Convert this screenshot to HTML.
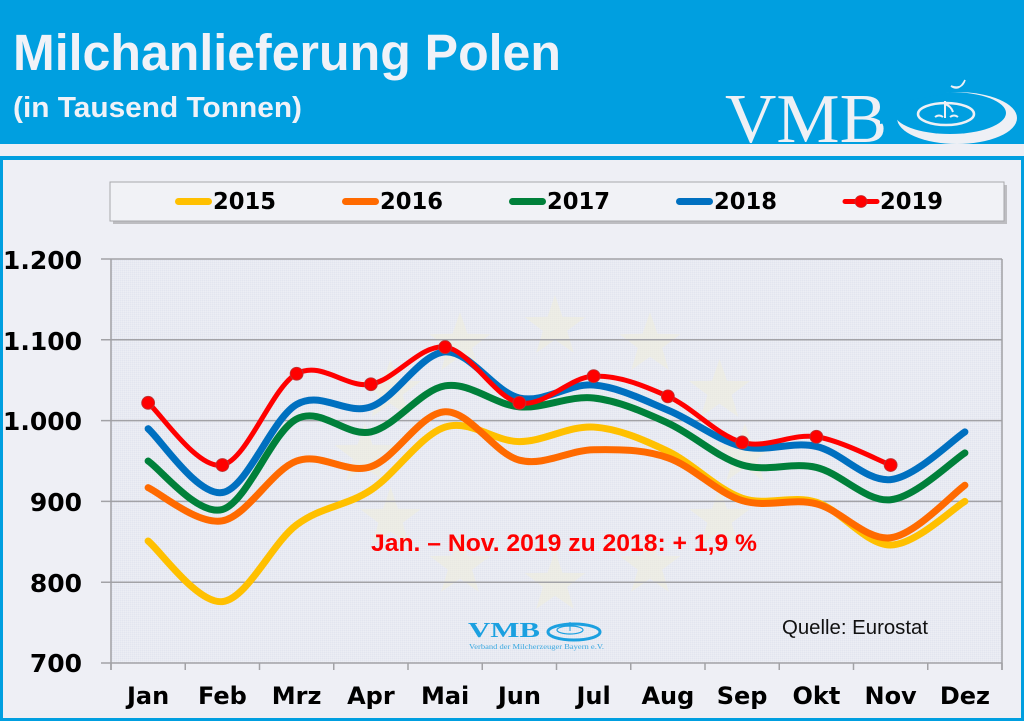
<!DOCTYPE html>
<html><head><meta charset="utf-8"><style>
html,body{margin:0;padding:0;background:#eeeff5;}
svg{display:block;}
</style></head><body>
<svg id="c" width="1024" height="721" viewBox="0 0 1024 721" xmlns="http://www.w3.org/2000/svg">
<defs>
<pattern id="dith" width="2" height="2" patternUnits="userSpaceOnUse">
<rect width="2" height="2" fill="#e8eaf2"/>
<rect width="1" height="1" fill="#e2e5ef"/>
<rect x="1" y="1" width="1" height="1" fill="#eceef4"/>
</pattern>
<polygon id="star" points="0,-32 7.5,-10.3 30.4,-9.9 12.1,3.9 18.8,25.9 0,12.8 -18.8,25.9 -12.1,3.9 -30.4,-9.9 -7.5,-10.3"/>
</defs>
<!-- page background -->
<rect x="0" y="0" width="1024" height="721" fill="#eeeff5"/>
<!-- header -->
<rect x="0" y="0" width="1024" height="144" fill="#009fe0"/>
<rect x="0" y="156" width="1024" height="4" fill="#009fe0"/>
<!-- frame borders -->
<rect x="0" y="156" width="3" height="565" fill="#009fe0"/>
<rect x="1021" y="156" width="3" height="565" fill="#009fe0"/>
<rect x="0" y="718" width="1024" height="3" fill="#009fe0"/>

<text x="13" y="70" font-family="Liberation Sans, sans-serif" font-weight="bold" font-size="51" fill="#f0f2f8" textLength="548" lengthAdjust="spacingAndGlyphs">Milchanlieferung Polen</text>
<text x="13" y="117" font-family="Liberation Sans, sans-serif" font-weight="bold" font-size="29" fill="#f0f2f8" textLength="289" lengthAdjust="spacingAndGlyphs">(in Tausend Tonnen)</text>

<!-- VMB logo header -->
<text x="725" y="142" font-family="Liberation Serif, serif" font-size="70" fill="#eef0f5" textLength="162" lengthAdjust="spacingAndGlyphs">VMB</text>
<ellipse cx="957" cy="118" rx="60" ry="26" fill="#eef0f5"/>
<ellipse cx="950" cy="113" rx="56" ry="21" fill="#009fe0"/>
<polygon points="880,80 945,80 945,94 910,100 890,122 880,124" fill="#009fe0"/>
<ellipse cx="946" cy="114" rx="28" ry="11" fill="none" stroke="#eef0f5" stroke-width="2.5"/>
<path d="M945,101 L945,118 M945,104 q6,2 8,8 M935,117 q4,-3 8,0 M950,117 q4,-3 8,0" stroke="#eef0f5" stroke-width="2" fill="none"/>
<path d="M951,86 q8,6 14,-6 q-3,10 -14,6Z" fill="#eef0f5" stroke="#eef0f5" stroke-width="1.5"/>

<!-- legend -->
<rect x="113" y="185" width="894" height="39" fill="#bdbdc1"/>
<rect x="110" y="182" width="894" height="39" fill="#f1f2f6" stroke="#a8a8ac" stroke-width="1"/>
<g stroke-linecap="round" stroke-width="7">
<line x1="178.5" y1="201.5" x2="208.5" y2="201.5" stroke="#ffc000"/>
<line x1="345.5" y1="201.5" x2="375.5" y2="201.5" stroke="#ff6a00"/>
<line x1="512.5" y1="201.5" x2="542.5" y2="201.5" stroke="#00803a"/>
<line x1="679.5" y1="201.5" x2="709.5" y2="201.5" stroke="#0070c0"/>
</g>
<line x1="845" y1="201.5" x2="877" y2="201.5" stroke="#ff0000" stroke-width="5" stroke-linecap="round"/>
<circle cx="861" cy="201.5" r="6" fill="#ff0000" stroke="#c03030" stroke-width="0.8"/>
<g font-family="DejaVu Sans, Verdana, sans-serif" font-weight="bold" font-size="23" fill="#000">
<text x="213" y="209" textLength="63" lengthAdjust="spacingAndGlyphs">2015</text>
<text x="380" y="209" textLength="63" lengthAdjust="spacingAndGlyphs">2016</text>
<text x="547" y="209" textLength="63" lengthAdjust="spacingAndGlyphs">2017</text>
<text x="714" y="209" textLength="63" lengthAdjust="spacingAndGlyphs">2018</text>
<text x="880" y="209" textLength="63" lengthAdjust="spacingAndGlyphs">2019</text>
</g>

<!-- plot area -->
<rect x="111" y="259" width="891" height="404" fill="url(#dith)"/>
<g fill="#f0eedb" opacity="0.55" id="stars"></g>
<g id="grid" stroke="#a2a2a6" stroke-width="1.5"></g>
<line x1="111" y1="259" x2="111" y2="670" stroke="#a0a0a4" stroke-width="1.5"/>
<line x1="1002" y1="259" x2="1002" y2="670" stroke="#a0a0a4" stroke-width="1.5"/>

<!-- watermark logo -->
<text x="468" y="637" font-family="Liberation Serif, serif" font-weight="bold" font-size="21" fill="#1ba0e0" textLength="72" lengthAdjust="spacingAndGlyphs">VMB</text>
<ellipse cx="574" cy="632" rx="26" ry="8" fill="none" stroke="#1ba0e0" stroke-width="3"/>
<ellipse cx="570" cy="630" rx="13" ry="4" fill="none" stroke="#1ba0e0" stroke-width="1.2"/>
<line x1="570" y1="622" x2="570" y2="631" stroke="#1ba0e0" stroke-width="1"/>
<text x="469" y="649" font-family="Liberation Serif, serif" font-size="7" fill="#3aa8e0" textLength="135" lengthAdjust="spacingAndGlyphs">Verband der Milcherzeuger Bayern e.V.</text>

<!-- series -->
<g id="series" fill="none" stroke-linecap="round" stroke-linejoin="round"></g>
<g id="markers"></g>

<!-- annotation -->
<text x="371" y="551" font-family="Liberation Sans, sans-serif" font-weight="bold" font-size="24" fill="#ff0000" textLength="386" lengthAdjust="spacingAndGlyphs">Jan. – Nov. 2019 zu 2018: + 1,9 %</text>
<text x="782" y="634" font-family="Liberation Sans, sans-serif" font-size="20" fill="#111" textLength="146" lengthAdjust="spacingAndGlyphs">Quelle: Eurostat</text>

<!-- y labels -->
<g font-family="DejaVu Sans, Verdana, sans-serif" font-weight="bold" font-size="25" fill="#000" text-anchor="end">
<text x="82" y="269">1.200</text>
<text x="82" y="350">1.100</text>
<text x="82" y="430">1.000</text>
<text x="82" y="511">900</text>
<text x="82" y="592">800</text>
<text x="82" y="672">700</text>
</g>
<!-- x labels -->
<g font-family="DejaVu Sans, Verdana, sans-serif" font-weight="bold" font-size="24" fill="#000" text-anchor="middle">
<text x="148.1" y="704">Jan</text>
<text x="222.4" y="704">Feb</text>
<text x="296.6" y="704">Mrz</text>
<text x="370.9" y="704">Apr</text>
<text x="445.1" y="704">Mai</text>
<text x="519.4" y="704">Jun</text>
<text x="593.6" y="704">Jul</text>
<text x="667.9" y="704">Aug</text>
<text x="742.1" y="704">Sep</text>
<text x="816.4" y="704">Okt</text>
<text x="890.6" y="704">Nov</text>
<text x="964.9" y="704">Dez</text>
</g>
</svg>
<script>
(function(){
var NS="http://www.w3.org/2000/svg";
var X0=111,W=891/12;
function Y(v){return 663-(v-700)*404/500;}
function el(tag,attrs,parent){var e=document.createElementNS(NS,tag);for(var k in attrs)e.setAttribute(k,attrs[k]);parent.appendChild(e);return e;}
var g=document.getElementById("grid");
[1200,1100,1000,900,800,700].forEach(function(v){var y=Y(v);el("line",{x1:101,y1:y,x2:1002,y2:y},g);});
for(var k=0;k<=12;k++){var x=X0+W*k;el("line",{x1:x,y1:663,x2:x,y2:670},g);}
var s=document.getElementById("stars");
for(var i=0;i<12;i++){var a=i*Math.PI/6;var cx=555+190*Math.sin(a),cy=455-128*Math.cos(a);el("use",{href:"#star",x:cx.toFixed(1),y:cy.toFixed(1)},s);}
function path(vals){
 var p=vals.map(function(v,i){return [X0+W*(i+0.5),Y(v)];});
 var d="M"+p[0][0].toFixed(2)+","+p[0][1].toFixed(2);
 for(var i=0;i<p.length-1;i++){
  var p0=p[i-1]||p[i],p1=p[i],p2=p[i+1],p3=p[i+2]||p[i+1];
  var c1=[p1[0]+(p2[0]-p0[0])/6,p1[1]+(p2[1]-p0[1])/6];
  var c2=[p2[0]-(p3[0]-p1[0])/6,p2[1]-(p3[1]-p1[1])/6];
  d+=" C"+c1[0].toFixed(2)+","+c1[1].toFixed(2)+" "+c2[0].toFixed(2)+","+c2[1].toFixed(2)+" "+p2[0].toFixed(2)+","+p2[1].toFixed(2);
 }
 return {d:d,p:p};
}
var series=[
 {c:"#ffc000",w:7,v:[851,776,871,914,992,974,992,962,904,899,846,900]},
 {c:"#ff6a00",w:7,v:[917,876,950,943,1011,951,964,954,901,897,855,920]},
 {c:"#00803a",w:7,v:[950,890,1002,986,1043,1017,1028,997,945,942,902,960]},
 {c:"#0070c0",w:7,v:[990,911,1020,1017,1085,1028,1044,1013,968,968,927,986]},
 {c:"#ff0000",w:5,v:[1022,945,1058,1045,1091,1022,1055,1030,973,980,945],m:true}
];
var sg=document.getElementById("series"),mg=document.getElementById("markers");
series.forEach(function(sr){
 var r=path(sr.v);
 el("path",{d:r.d,stroke:sr.c,"stroke-width":sr.w},sg);
 if(sr.m){r.p.forEach(function(pt){el("circle",{cx:pt[0].toFixed(2),cy:pt[1].toFixed(2),r:6.5,fill:"#ff0000",stroke:"#b83838","stroke-width":0.8},mg);});}
});
})();
</script>
</body></html>
